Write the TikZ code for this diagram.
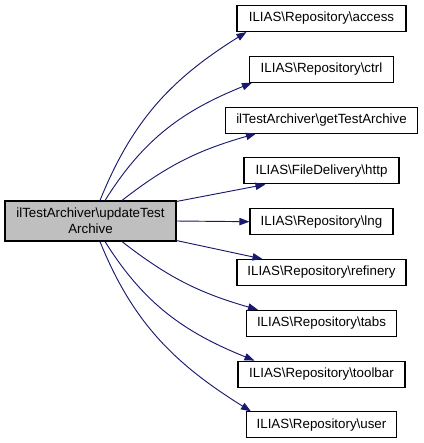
\documentclass[tikz,border=0pt]{standalone}
\usepackage{fontspec}
\setmainfont{Liberation Sans}
\usepackage{tikz}
\usetikzlibrary{arrows.meta, positioning}
\usepackage{xcolor}
\definecolor{edgeBlue}{RGB}{25, 25, 112}
\definecolor{callerGray}{RGB}{191, 191, 191}

\begin{document}
\begin{tikzpicture}[
        x=0.75pt, y=-0.75pt,
        node distance=17.8pt,
        font=\fontsize{10}{12}\selectfont,
        caller/.style={rectangle, draw=black, fill=callerGray, line width=0.8pt, minimum width=128.25pt, minimum height=30pt, inner sep=1pt, align=center},
        callee/.style={rectangle, draw=black, fill=white, line width=0.8pt, minimum height=19.5pt, inner sep=1pt, align=center},
        call/.style={-{Triangle[length=7.5pt, width=5.5pt]}, edgeBlue, line width=0.7pt}
    ]
        \useasboundingbox (0,0) rectangle (424,443);
        \node[caller] (update) at (90.5,221) {ilTestArchiver\textbackslash updateTest\\Archive};
        \node[callee, minimum width=126.75pt] (access) at (321.5,18.5) {ILIAS\textbackslash Repository\textbackslash access};
        \node[callee, minimum width=108pt, below=of access] (ctrl) {ILIAS\textbackslash Repository\textbackslash ctrl};
        \node[callee, minimum width=144pt, below=of ctrl] (archive) {ilTestArchiver\textbackslash getTestArchive};
        \node[callee, minimum width=116.25pt, below=of archive] (http) {ILIAS\textbackslash FileDelivery\textbackslash http};
        \node[callee, minimum width=107.25pt, below=of http] (lng) {ILIAS\textbackslash Repository\textbackslash lng};
        \node[callee, minimum width=126.75pt, below=of lng] (refinery) {ILIAS\textbackslash Repository\textbackslash refinery};
        \node[callee, minimum width=112.5pt, below=of refinery] (tabs) {ILIAS\textbackslash Repository\textbackslash tabs};
        \node[callee, minimum width=125.25pt, below=of tabs] (toolbar) {ILIAS\textbackslash Repository\textbackslash toolbar};
        \node[callee, minimum width=112.5pt, below=of toolbar] (user) {ILIAS\textbackslash Repository\textbackslash user};
        \draw[call] ([xshift=7.1pt]update.north) to[out=68, in=212] ([xshift=7.5pt]access.south west);
        \draw[call] ([xshift=10.9pt]update.north) to[out=58, in=202] ([xshift=2.25pt]ctrl.south west);
        \draw[call] ([xshift=23.6pt]update.north) to[out=38, in=196] ([xshift=23.25pt]archive.south west);
        \draw[call] ([yshift=-0.75pt]update.north east) -- ([xshift=16.5pt]http.south west);
        \draw[call] (update.east) -- (lng.west);
        \draw[call] ([yshift=0.75pt]update.south east) -- ([xshift=19.5pt]refinery.north west);
        \draw[call] ([xshift=23.6pt]update.south) to[out=-38, in=164] ([xshift=9pt]tabs.north west);
        \draw[call] ([xshift=10.9pt]update.south) to[out=-58, in=158] ([xshift=12.75pt]toolbar.north west);
        \draw[call] ([xshift=7.1pt]update.south) to[out=-68, in=148] ([xshift=3.75pt]user.north west);
    \end{tikzpicture}
\end{document}
